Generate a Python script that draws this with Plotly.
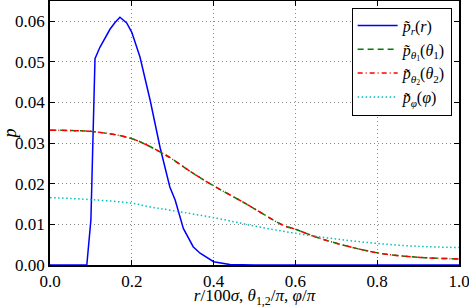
import plotly.graph_objects as go

# Data
x_r = [0, 0.09, 0.10, 0.11, 0.122, 0.147, 0.159, 0.171, 0.1875, 0.20, 0.22, 0.245, 0.269, 0.293,
       0.306, 0.318, 0.326, 0.35, 0.367, 0.40, 0.44, 0.5, 1.0]
p_r = [0, 0, 0.0111, 0.0508, 0.0536, 0.0581, 0.0597, 0.0610, 0.0596, 0.0573, 0.0512, 0.0405, 0.0290, 0.0192,
       0.0160, 0.0119, 0.0090, 0.0045, 0.0029, 0.0008, 0.0001, 0, 0]

x_theta = [0, 0.05, 0.11, 0.2, 0.27, 0.3, 0.345, 0.4, 0.477, 0.57, 0.6, 0.668, 0.8, 0.9, 1.0]
p_theta1 = [0.0332, 0.0331, 0.0328, 0.0311, 0.0278, 0.0260, 0.0229, 0.0195, 0.0152, 0.0098, 0.0088, 0.0063,
            0.0030, 0.0019, 0.0015]
p_theta2 = [0.0332, 0.0331, 0.0328, 0.0311, 0.0278, 0.0260, 0.0229, 0.0195, 0.0152, 0.0098, 0.0088, 0.0063,
            0.0030, 0.0019, 0.0015]

x_phi = [0, 0.1, 0.2, 0.245, 0.3, 0.408, 0.5, 0.6, 0.7, 0.8, 0.9, 1.0]
p_phi = [0.0166, 0.0161, 0.0152, 0.0143, 0.0134, 0.0115, 0.0096, 0.0078, 0.0064, 0.0053, 0.0046, 0.0043]

x_ticks = [0.0, 0.2, 0.4, 0.6, 0.8, 1.0]
x_ticklabels = ["0.0", "0.2", "0.4", "0.6", "0.8", "1.0"]
y_ticks = [0.00, 0.01, 0.02, 0.03, 0.04, 0.05, 0.06]
y_ticklabels = ["0.00", "0.01", "0.02", "0.03", "0.04", "0.05", "0.06"]

FONT = "Liberation Serif"

fig = go.Figure()
fig.add_trace(go.Scatter(x=x_r, y=p_r, mode="lines", line=dict(color="#0000ff", width=1.5),
                         name="<i>p̃</i><sub><i>r</i></sub>(<i>r</i>)"))
fig.add_trace(go.Scatter(x=x_theta, y=p_theta1, mode="lines", line_shape="spline",
                         line=dict(color="#008000", width=1.5, dash="6px,4px"),
                         name="<i>p̃</i><sub><i>θ</i><sub>1</sub></sub>(<i>θ</i><sub>1</sub>)"))
fig.add_trace(go.Scatter(x=x_theta, y=p_theta2, mode="lines", line_shape="spline",
                         line=dict(color="#ff0000", width=1.5, dash="5px,3px,1px,3px"),
                         name="<i>p̃</i><sub><i>θ</i><sub>2</sub></sub>(<i>θ</i><sub>2</sub>)"))
fig.add_trace(go.Scatter(x=x_phi, y=p_phi, mode="lines", line_shape="spline",
                         line=dict(color="#00bfbf", width=1.5, dash="1.5px,2.5px"),
                         name="<i>p̃</i><sub><i>φ</i></sub>(<i>φ</i>)"))

axis_common = dict(showline=True, linecolor="black", linewidth=1.5, mirror="allticks",
                   ticks="inside", ticklen=5, tickcolor="black", showgrid=True,
                   gridcolor="#8c8c8c", griddash="1px,3px", gridwidth=1, zeroline=False,
                   ticklabeloverflow="allow",
                   tickfont=dict(family=FONT, size=17, color="black"))

fig.update_xaxes(range=[0, 1], tickvals=x_ticks, ticktext=x_ticklabels,
                 title=dict(text="<i>r</i>/100<i>σ</i>, <i>θ</i><sub>1,2</sub>/<i>π</i>, <i>φ</i>/<i>π</i>",
                            font=dict(family=FONT, size=17, color="black"), standoff=3),
                 **axis_common)
fig.update_yaxes(range=[0, 0.065], tickvals=y_ticks, ticktext=y_ticklabels,
                 title=dict(text="<i>p</i>", font=dict(family=FONT, size=18, color="black"), standoff=0),
                 **axis_common)

fig.update_layout(
    width=469, height=308,
    margin=dict(l=50, r=10, t=1, b=43, autoexpand=False),
    paper_bgcolor="white", plot_bgcolor="white",
    font=dict(family=FONT, color="black"),
    legend=dict(x=0.982, y=0.975, xanchor="right", yanchor="top",
                bgcolor="white", bordercolor="black", borderwidth=1,
                font=dict(family=FONT, size=16, color="black"),
                itemwidth=40, tracegroupgap=0),
    showlegend=True,
)

fig.write_html("out.html", config={"displayModeBar": False},
               post_script="document.body.style.margin='0';document.body.style.overflow='hidden';")
